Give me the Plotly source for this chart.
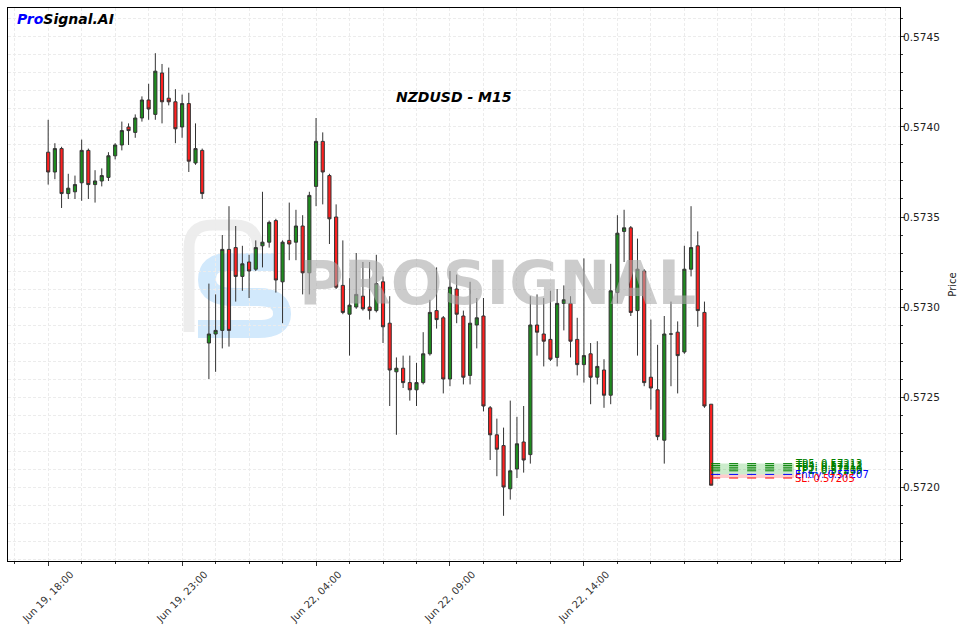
import plotly.graph_objects as go

# ---------------- data ----------------
tick_labels = ["Jun 19, 18:00", "Jun 19, 23:00", "Jun 22, 04:00", "Jun 22, 09:00", "Jun 22, 14:00", "", ""]
tick_index = [0, 20, 40, 60, 80, 100, 120]

open_ = [0.57386, 0.57375, 0.57388, 0.57363, 0.57364, 0.57369, 0.57387, 0.57368, 0.57370, 0.57372,
         0.57384, 0.57390, 0.57400, 0.57397, 0.57405, 0.57415, 0.57407, 0.57430, 0.57416, 0.57414,
         0.57400, 0.57413, 0.57380, 0.57387, 0.57280, 0.57285, 0.57287, 0.57332, 0.57333, 0.57317,
         0.57325, 0.57321, 0.57334, 0.57336, 0.57348, 0.57314, 0.57337, 0.57336, 0.57345, 0.57319,
         0.57367, 0.57392, 0.57373, 0.57350, 0.57312, 0.57296, 0.57300, 0.57306, 0.57300, 0.57298,
         0.57314, 0.57291, 0.57264, 0.57266, 0.57258, 0.57254, 0.57258, 0.57274, 0.57298, 0.57294,
         0.57260, 0.57310, 0.57295, 0.57262, 0.57290, 0.57295, 0.57244, 0.57229, 0.57223, 0.57199,
         0.57210, 0.57225, 0.57218, 0.57290, 0.57285, 0.57282, 0.57272, 0.57302, 0.57302, 0.57282,
         0.57268, 0.57274, 0.57261, 0.57265, 0.57251, 0.57308, 0.57342, 0.57344, 0.57298, 0.57320,
         0.57261, 0.57254, 0.57226, 0.57285, 0.57286, 0.57275, 0.57321, 0.57334, 0.57297, 0.57246]
high = [0.57404, 0.57391, 0.57389, 0.57374, 0.57373, 0.57393, 0.57388, 0.57376, 0.57377, 0.57386,
        0.57391, 0.57403, 0.57402, 0.57407, 0.57417, 0.57424, 0.57441, 0.57435, 0.57433, 0.57421,
        0.57418, 0.57419, 0.57402, 0.57388, 0.57313, 0.57307, 0.57340, 0.57356, 0.57345, 0.57334,
        0.57329, 0.57337, 0.57364, 0.57348, 0.57349, 0.57337, 0.57358, 0.57354, 0.57351, 0.57364,
        0.57405, 0.57397, 0.57374, 0.57357, 0.57337, 0.57316, 0.57330, 0.57325, 0.57325, 0.57329,
        0.57317, 0.57306, 0.57272, 0.57273, 0.57273, 0.57269, 0.57286, 0.57304, 0.57322, 0.57295,
        0.57320, 0.57318, 0.57298, 0.57314, 0.57305, 0.57305, 0.57245, 0.57238, 0.57233, 0.57248,
        0.57239, 0.57245, 0.57306, 0.57307, 0.57305, 0.57309, 0.57310, 0.57312, 0.57306, 0.57294,
        0.57327, 0.57280, 0.57281, 0.57271, 0.57324, 0.57351, 0.57354, 0.57345, 0.57338, 0.57321,
        0.57293, 0.57279, 0.57295, 0.57303, 0.57292, 0.57334, 0.57356, 0.57342, 0.57303, 0.57246]
low = [0.57368, 0.57371, 0.57355, 0.57360, 0.57360, 0.57359, 0.57360, 0.57358, 0.57367, 0.57370,
       0.57382, 0.57387, 0.57390, 0.57394, 0.57403, 0.57404, 0.57404, 0.57402, 0.57412, 0.57391,
       0.57394, 0.57375, 0.57379, 0.57360, 0.57260, 0.57264, 0.57277, 0.57278, 0.57303, 0.57309,
       0.57305, 0.57320, 0.57322, 0.57333, 0.57308, 0.57291, 0.57326, 0.57326, 0.57307, 0.57307,
       0.57356, 0.57357, 0.57335, 0.57310, 0.57296, 0.57273, 0.57299, 0.57298, 0.57293, 0.57297,
       0.57280, 0.57245, 0.57229, 0.57255, 0.57248, 0.57245, 0.57257, 0.57273, 0.57288, 0.57252,
       0.57256, 0.57291, 0.57257, 0.57257, 0.57277, 0.57242, 0.57215, 0.57206, 0.57184, 0.57193,
       0.57205, 0.57208, 0.57213, 0.57273, 0.57267, 0.57270, 0.57267, 0.57287, 0.57272, 0.57262,
       0.57258, 0.57246, 0.57257, 0.57244, 0.57246, 0.57302, 0.57325, 0.57295, 0.57273, 0.57256,
       0.57243, 0.57226, 0.57213, 0.57256, 0.57252, 0.57274, 0.57317, 0.57289, 0.57244, 0.57201]
close = [0.57375, 0.57388, 0.57363, 0.57366, 0.57368, 0.57387, 0.57368, 0.57370, 0.57373, 0.57384,
         0.57390, 0.57398, 0.57398, 0.57405, 0.57415, 0.57410, 0.57431, 0.57414, 0.57414, 0.57399,
         0.57413, 0.57381, 0.57388, 0.57363, 0.57285, 0.57287, 0.57332, 0.57287, 0.57317, 0.57324,
         0.57320, 0.57333, 0.57336, 0.57347, 0.57315, 0.57336, 0.57335, 0.57345, 0.57319, 0.57362,
         0.57392, 0.57375, 0.57349, 0.57311, 0.57297, 0.57301, 0.57307, 0.57299, 0.57298, 0.57313,
         0.57289, 0.57265, 0.57266, 0.57258, 0.57254, 0.57258, 0.57274, 0.57297, 0.57293, 0.57260,
         0.57311, 0.57296, 0.57261, 0.57291, 0.57294, 0.57245, 0.57229, 0.57221, 0.57200, 0.57209,
         0.57224, 0.57215, 0.57290, 0.57286, 0.57281, 0.57271, 0.57302, 0.57304, 0.57281, 0.57268,
         0.57273, 0.57261, 0.57267, 0.57251, 0.57309, 0.57341, 0.57344, 0.57297, 0.57321, 0.57258,
         0.57255, 0.57228, 0.57285, 0.57285, 0.57273, 0.57321, 0.57333, 0.57298, 0.57245, 0.57201]

tp_levels = [0.57209, 0.57210, 0.57211, 0.57212, 0.57213]
entry_level = 0.57207
sl_level = 0.57205

title_text = "NZDUSD - M15"

# ---------------- figure ----------------
n = len(open_)
xs = list(range(n))
x_range = [-6, 127.2]
y_range = [0.571589, 0.574661]

fig = go.Figure()

# watermark text (drawn first so candles sit on top)
fig.add_trace(go.Scatter(
    x=[x_range[0] + 0.549 * (x_range[1] - x_range[0])],
    y=[y_range[0] + 0.493 * (y_range[1] - y_range[0])],
    mode="text", text=["PROSIGNAL"],
    textfont=dict(family="DejaVu Sans", size=61, color="rgba(170,170,170,0.6)", weight="bold"),
    textposition="middle center", hoverinfo="skip", showlegend=False))

fig.add_trace(go.Candlestick(
    x=xs, open=open_, high=high, low=low, close=close,
    increasing=dict(fillcolor="#1e8c1e", line=dict(color="#333333", width=1)),
    decreasing=dict(fillcolor="#ff2020", line=dict(color="#333333", width=1)),
    whiskerwidth=0, showlegend=False, hoverinfo="skip"))

# TP / Entry / SL levels
x_end = n - 1 + 12.4
shapes = []
shapes.append(dict(type="rect", xref="x", yref="y", x0=n - 1, x1=x_end,
                   y0=entry_level, y1=max(tp_levels), fillcolor="rgba(0,160,0,0.2)",
                   line=dict(width=0), layer="above"))
shapes.append(dict(type="rect", xref="x", yref="y", x0=n - 1, x1=x_end,
                   y0=sl_level, y1=entry_level, fillcolor="rgba(255,0,0,0.2)",
                   line=dict(width=0), layer="above"))
for tp in tp_levels:
    shapes.append(dict(type="line", xref="x", yref="y", x0=n - 1, x1=x_end, y0=tp, y1=tp,
                       line=dict(color="green", width=1, dash="dash")))
shapes.append(dict(type="line", xref="x", yref="y", x0=n - 1, x1=x_end, y0=entry_level, y1=entry_level,
                   line=dict(color="blue", width=1, dash="dash")))
shapes.append(dict(type="line", xref="x", yref="y", x0=n - 1, x1=x_end, y0=sl_level, y1=sl_level,
                   line=dict(color="red", width=1, dash="dash")))

# logo icon watermark (paper coordinates derived from pixel layout)
def px(x, y):
    return (x - 8) / 892, (561 - y) / 553

def path(points_cmds):
    out = []
    for cmd, pts in points_cmds:
        s = cmd + " " + " ".join("%.4f,%.4f" % px(*p) for p in pts)
        out.append(s)
    return " ".join(out)

grey_path = path([("M", [(189, 332)]), ("L", [(189, 248)]), ("Q", [(189, 225), (213, 225)]),
                  ("L", [(235, 225)]), ("Q", [(258, 225), (258, 250)])])
shapes.append(dict(type="path", xref="paper", yref="paper", path=grey_path,
                   line=dict(color="rgba(215,215,215,0.45)", width=11), layer="below"))
blue_path = path([("M", [(274, 262)]), ("L", [(228, 262)]), ("Q", [(207, 262), (207, 280)]),
                  ("Q", [(207, 297), (235, 297)]), ("L", [(258, 297)]), ("Q", [(282, 297), (282, 314)]),
                  ("Q", [(282, 329), (258, 329)]), ("L", [(198, 329)])])
shapes.append(dict(type="path", xref="paper", yref="paper", path=blue_path,
                   line=dict(color="rgba(165,212,250,0.5)", width=18), layer="below"))

annotations = []
label_x = n - 1 + 12.2
for i, tp in enumerate(tp_levels):
    annotations.append(dict(x=label_x, y=tp, xref="x", yref="y", text="TP%d: %.5f" % (i + 1, tp),
                            showarrow=False, xanchor="left", yanchor="middle",
                            font=dict(family="DejaVu Sans", size=10, color="green")))
annotations.append(dict(x=label_x, y=entry_level, xref="x", yref="y", text="Entry: %.5f" % entry_level,
                        showarrow=False, xanchor="left", yanchor="middle",
                        font=dict(family="DejaVu Sans", size=10, color="blue")))
annotations.append(dict(x=label_x, y=sl_level, xref="x", yref="y", text="SL: %.5f" % sl_level,
                        showarrow=False, xanchor="left", yanchor="middle",
                        font=dict(family="DejaVu Sans", size=10, color="red")))
annotations.append(dict(x=0.5, y=0.839, xref="paper", yref="paper",
                        text="<b><i>%s</i></b>" % title_text, showarrow=False,
                        xanchor="center", yanchor="middle",
                        font=dict(family="DejaVu Sans", size=14, color="black")))
annotations.append(dict(x=0.008, y=0.981, xref="paper", yref="paper",
                        text="<b><i><span style='color:#0000ff'>Pro</span>Signal.AI</i></b>",
                        showarrow=False, xanchor="left", yanchor="middle",
                        font=dict(family="DejaVu Sans", size=14, color="black")))
# rotated x tick labels, centred under their ticks
for tv, tl in zip(tick_index, tick_labels):
    if tl:
        annotations.append(dict(x=tv, y=0, xref="x", yref="paper", text=tl, showarrow=False,
                                textangle=-45, xanchor="center", yanchor="top", yshift=-5,
                                font=dict(family="DejaVu Sans", size=10, color="#333333")))

grid_col = "#ececec"
fig.update_layout(
    width=963, height=629,
    margin=dict(l=8, r=63, t=8, b=68),
    paper_bgcolor="white", plot_bgcolor="white",
    boxgap=0.33,
    shapes=shapes, annotations=annotations,
    showlegend=False,
    font=dict(family="DejaVu Sans", color="#222222"),
    xaxis=dict(range=x_range, rangeslider=dict(visible=False), automargin=False,
               tickmode="array", tickvals=tick_index, ticktext=tick_labels, showticklabels=False,
               ticks="outside", ticklen=4, tickcolor="#333",
               showgrid=True, gridcolor=grid_col, griddash="3px,2px", gridwidth=0.8,
               minor=dict(dtick=5, tick0=0, ticks="outside", ticklen=2, tickcolor="#333",
                          showgrid=True, gridcolor=grid_col, griddash="3px,2px", gridwidth=0.8),
               showline=True, linecolor="black", linewidth=1, mirror=True, zeroline=False),
    yaxis=dict(range=y_range, side="right", dtick=0.0005, tick0=0.5720, tickformat=".4f",
               automargin=False,
               ticks="outside", ticklen=4, tickcolor="#333", ticklabelstandoff=-4,
               tickfont=dict(size=10.5, color="#222222"),
               title=dict(text="Price", font=dict(size=10, color="#222222"), standoff=10),
               showgrid=True, gridcolor=grid_col, griddash="3px,2px", gridwidth=0.8,
               minor=dict(dtick=0.0001, ticks="outside", ticklen=2, tickcolor="#333",
                          showgrid=True, gridcolor=grid_col, griddash="3px,2px", gridwidth=0.8),
               showline=True, linecolor="black", linewidth=1, mirror=True, zeroline=False),
)

fig.write_html("out.html")
